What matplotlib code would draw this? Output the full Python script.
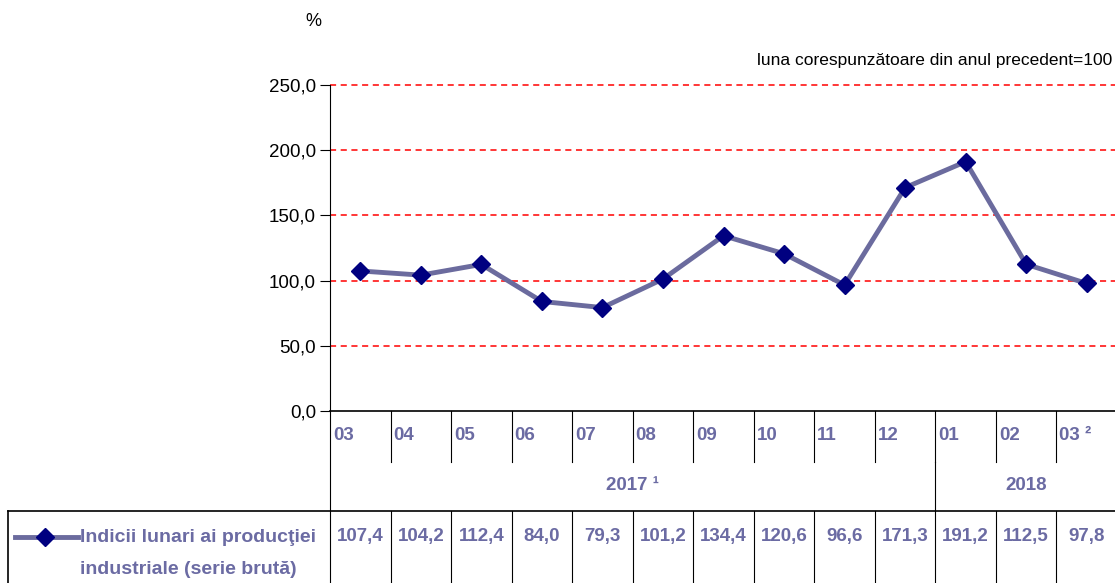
import matplotlib
matplotlib.use("Agg")
import matplotlib.pyplot as plt
from matplotlib.lines import Line2D
import matplotlib.transforms as mtransforms

# date
luni = ["03", "04", "05", "06", "07", "08", "09", "10", "11", "12", "01", "02", "03 ²"]
valori = [107.4, 104.2, 112.4, 84.0, 79.3, 101.2, 134.4, 120.6, 96.6, 171.3, 191.2, 112.5, 97.8]
ani = ["2017 ¹", "2018"]
luni_pe_an = [10, 3]
y_ticks = [0, 50, 100, 150, 200, 250]

plt.rcParams["font.family"] = ["Liberation Sans", "DejaVu Sans"]

culoare_text = "#6b6ba3"
culoare_linie = "#6b6b9e"
culoare_marker = "#000080"

W, H = 1115, 583
fig = plt.figure(figsize=(W / 100, H / 100), dpi=100)
ax = fig.add_axes([330 / W, (H - 411) / H, (1117 - 330) / W, (411 - 85) / H])

x = list(range(len(valori)))
ax.plot(x, valori, color=culoare_linie, lw=3.5, marker="D", ms=9.5,
        mfc=culoare_marker, mec=culoare_marker, zorder=3, clip_on=False)

ax.set_xlim(-0.5, len(valori) - 0.5)
ax.set_ylim(0, 250)
ax.set_yticks(y_ticks)
ax.set_yticklabels([f"{v:.1f}".replace(".", ",") for v in y_ticks], fontsize=13.5)
ax.tick_params(axis="y", length=7, width=0.8, direction="out", pad=3)
ax.set_xticks([])
for v in y_ticks[1:]:
    ax.axhline(v, color="#ff0000", lw=1.1, ls=(0, (4, 3)), zorder=1, clip_on=False)
for s in ["top", "right"]:
    ax.spines[s].set_visible(False)
ax.spines["left"].set_linewidth(0.8)
ax.spines["bottom"].set_linewidth(1.2)

fig.text(313 / W, 1 - 22 / H, "%", fontsize=13, ha="center", va="center")
fig.text(1112 / W, 1 - 60 / H, "luna corespunzătoare din anul precedent=100",
         fontsize=12.5, ha="right", va="center")

# tabelul de sub grafic
tr = mtransforms.blended_transform_factory(ax.transData, fig.transFigure)

def fy(p):
    return 1 - p / H

def vline(xd, y0, y1):
    fig.add_artist(Line2D([xd, xd], [fy(y0), fy(y1)], transform=tr, color="black", lw=0.8))

n = len(valori)
vline(-0.5, 411, 583)
for i in range(1, n):
    vline(i - 0.5, 411, 462)
    vline(i - 0.5, 511, 583)
split = luni_pe_an[0] - 0.5
vline(split, 462, 511)
fig.add_artist(Line2D([8 / W, 1], [fy(511), fy(511)], transform=fig.transFigure, color="black", lw=1.2))
fig.add_artist(Line2D([8 / W, 8 / W], [fy(511), fy(583)], transform=fig.transFigure, color="black", lw=1.2))

for i, lab in enumerate(luni):
    fig.text(i - 0.5 + 0.05, fy(436), lab, transform=tr, fontsize=13.5, fontweight="bold",
             color=culoare_text, ha="left", va="center")

start = 0
for an, k in zip(ani, luni_pe_an):
    fig.text(start - 0.5 + k / 2, fy(485), an, transform=tr, fontsize=13.5, fontweight="bold",
             color=culoare_text, ha="center", va="center")
    start += k

for i, v in enumerate(valori):
    fig.text(i, fy(537), f"{v:.1f}".replace(".", ","), transform=tr, fontsize=13.5,
             fontweight="bold", color=culoare_text, ha="center", va="center")

fig.add_artist(Line2D([15 / W, 78 / W], [fy(537), fy(537)], transform=fig.transFigure,
                      color=culoare_linie, lw=3.5))
fig.add_artist(Line2D([45 / W], [fy(537)], transform=fig.transFigure, marker="D", ms=9.5,
                      mfc=culoare_marker, mec=culoare_marker))
fig.text(80 / W, fy(537), "Indicii lunari ai producţiei", fontsize=14, fontweight="bold",
         color=culoare_text, ha="left", va="center")
fig.text(80 / W, fy(570), "industriale (serie brută)", fontsize=14, fontweight="bold",
         color=culoare_text, ha="left", va="center")

fig.savefig("out.png", dpi=100)
